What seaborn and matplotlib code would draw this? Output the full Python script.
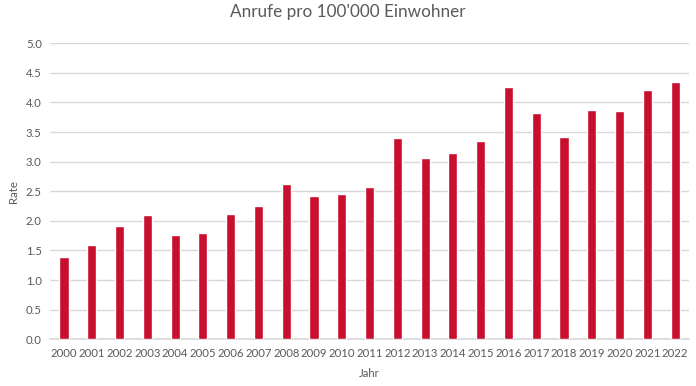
import pandas as pd
import seaborn as sns
import matplotlib.pyplot as plt

# Values
years = [str(y) for y in range(2000, 2023)]
rates = [1.39, 1.59, 1.91, 2.10, 1.76, 1.80, 2.12, 2.25, 2.62, 2.42, 2.45, 2.57,
         3.40, 3.06, 3.15, 3.35, 4.26, 3.82, 3.42, 3.87, 3.86, 4.21, 4.35]
yticks = [0.0, 0.5, 1.0, 1.5, 2.0, 2.5, 3.0, 3.5, 4.0, 4.5, 5.0]

df = pd.DataFrame({"Jahr": years, "Rate": rates})

sns.set_theme(style="white")
plt.rcParams['font.family'] = ['Lato', 'DejaVu Sans']

text_col = "#595959"
fig = plt.figure(figsize=(6.96, 3.86), dpi=100)
ax = fig.add_axes([0.072, 0.121, 0.918, 0.767])

sns.barplot(data=df, x="Jahr", y="Rate", color="#C8102E", saturation=1,
            width=0.33, ax=ax, zorder=3)

ax.set_ylim(0, 5.0)
ax.set_yticks(yticks)
ax.set_yticklabels([f"{t:.1f}" for t in yticks])
ax.set_xlim(-0.5, len(years) - 0.5)
ax.yaxis.grid(True, color="#d9d9d9", linewidth=1, zorder=0)
for s in ["top", "right", "left"]:
    ax.spines[s].set_visible(False)
ax.spines["bottom"].set_color("#d9d9d9")
ax.tick_params(axis="both", length=0, labelsize=8.2, colors=text_col, pad=6)
ax.set_xlabel("Jahr", fontsize=8.2, color=text_col, labelpad=7)
ax.set_ylabel("Rate", fontsize=8.2, color=text_col, labelpad=5)
fig.suptitle("Anrufe pro 100'000 Einwohner", fontsize=12.3, color=text_col, y=0.99)

plt.savefig("out.png", dpi=100)
plt.close()
